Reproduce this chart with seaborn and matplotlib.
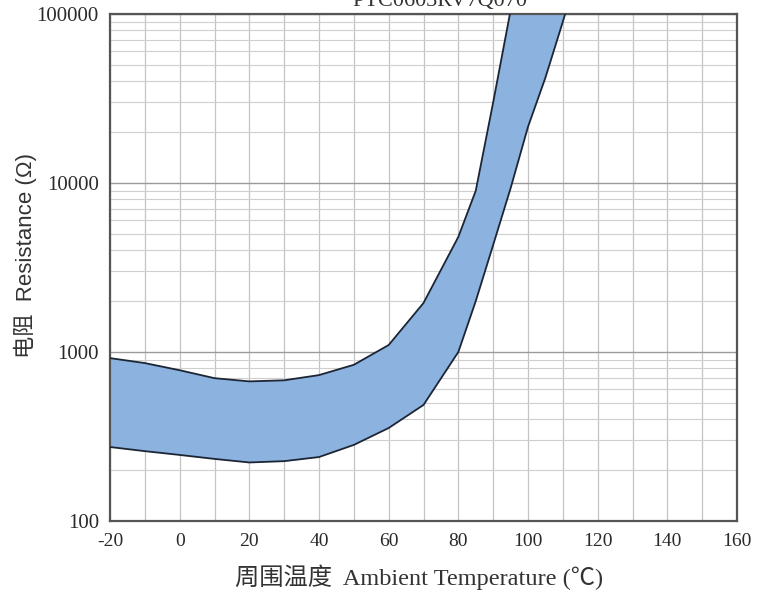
import matplotlib
matplotlib.use("Agg")
import matplotlib.pyplot as plt
import matplotlib.ticker as mticker
import seaborn as sns
import pandas as pd
import numpy as np

# Data
temperature = [-20, -10, 0, 10, 20, 30, 40, 50, 60, 70, 80, 85, 90, 95, 100, 105, 110, 115]
r_upper = [920, 860, 780, 700, 670, 680, 730, 840, 1100, 1950, 4800, 9000, 30000,
           105000, 300000, 700000, 1500000, 3000000]
r_lower = [274, 259, 246, 233, 222, 226, 239, 282, 355, 486, 1000, 2000, 4300,
           9300, 21500, 42000, 90000, 200000]
x_ticks = [-20, 0, 20, 40, 60, 80, 100, 120, 140, 160]
y_ticks = [100, 1000, 10000, 100000]
y_tick_labels = ["100", "1000", "10000", "100000"]
title_text = "PTC0603RV7Q070"
x_label = "周围温度  Ambient Temperature (℃)"
y_label = "电阻  Resistance (Ω)"

df = pd.DataFrame({"T": temperature, "upper": r_upper, "lower": r_lower})

sns.set_theme(style="white")
plt.rcParams["font.family"] = ["Liberation Serif", "Noto Sans CJK SC", "DejaVu Sans"]

fig = plt.figure(figsize=(7.66, 5.97), dpi=100)
ax = fig.add_axes([110 / 766, 1 - 521 / 597, 627 / 766, 507 / 597])

ax.fill_between(df["T"], df["lower"], df["upper"], color="#8CB2E0", zorder=2, linewidth=0)
sns.lineplot(data=df, x="T", y="upper", ax=ax, color="#1c2533", linewidth=1.3, zorder=3)
sns.lineplot(data=df, x="T", y="lower", ax=ax, color="#1c2533", linewidth=1.3, zorder=3)

ax.set_yscale("log")
ax.set_xlim(-20, 160)
ax.set_ylim(100, 100000)

ax.set_xticks(x_ticks)
ax.set_xticklabels([str(t) for t in x_ticks], fontsize=14)
ax.xaxis.set_minor_locator(mticker.MultipleLocator(10))
ax.set_yticks(y_ticks)
ax.set_yticklabels(y_tick_labels, fontsize=15)
ax.yaxis.set_minor_locator(mticker.LogLocator(base=10, subs=np.arange(2, 10)))
ax.yaxis.set_minor_formatter(mticker.NullFormatter())
ax.tick_params(axis="x", which="both", length=0, pad=9, colors="#2a2a2a")
ax.tick_params(axis="y", which="both", length=0, pad=8, colors="#2a2a2a")

ax.grid(True, which="major", axis="y", color="#9a9a9a", linewidth=1.0, zorder=1)
ax.grid(True, which="minor", axis="y", color="#cfcfcf", linewidth=0.8, zorder=1)
ax.grid(True, which="both", axis="x", color="#c4c4c4", linewidth=0.9, zorder=1)
ax.set_axisbelow(True)

for s in ax.spines.values():
    s.set_color("#555555")
    s.set_linewidth(1.6)

ax.set_xlabel("")
ax.set_ylabel("")
fig.text(419 / 766, 1 - 577 / 597, x_label, ha="center", va="center",
         fontsize=17.5, color="#333333")
fig.text(25 / 766, 1 - 255 / 597, y_label, ha="center", va="center",
         rotation=90, fontsize=16, color="#333333",
         family=["Liberation Sans", "Noto Sans CJK SC", "DejaVu Sans"])
fig.text(440 / 766, 1 - 6 / 597, title_text, ha="center", va="baseline",
         fontsize=16, color="#333333")

fig.savefig("out.png", dpi=100)
